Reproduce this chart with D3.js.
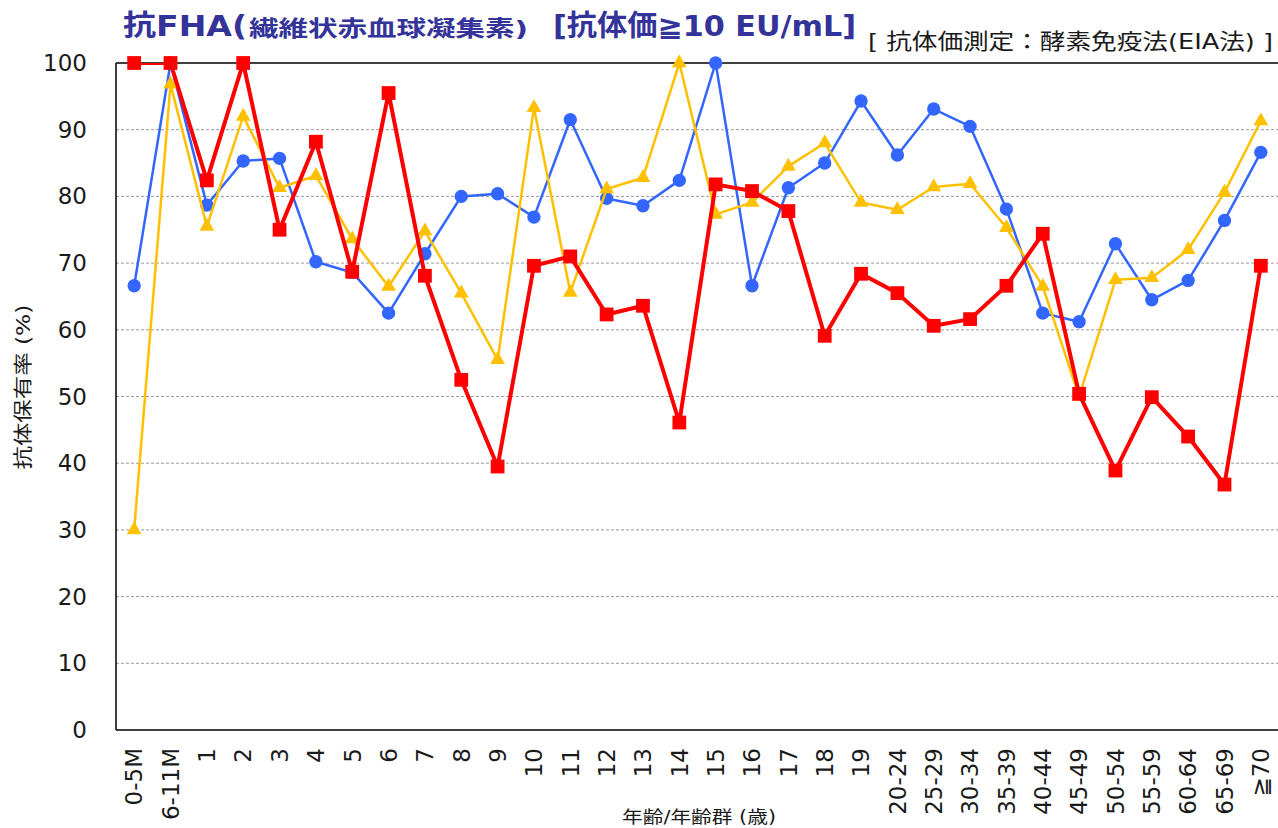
<!DOCTYPE html>
<html>
<head>
<meta charset="utf-8">
<script src="https://cdn.jsdelivr.net/npm/d3@7"></script>
<style>
  body { margin: 0; background: #fff; }
  svg { display: block; font-family: "DejaVu Sans", "Noto Sans CJK JP", sans-serif; }
</style>
</head>
<body>
<div id="chart"></div>
<script>
// 年齢/年齢群
const categories = ["0-5M", "6-11M", "1", "2", "3", "4", "5", "6", "7", "8", "9",
  "10", "11", "12", "13", "14", "15", "16", "17", "18", "19",
  "20-24", "25-29", "30-34", "35-39", "40-44", "45-49", "50-54", "55-59", "60-64", "65-69", "≧70"];

// 抗体保有率 (%)
const blueValues = [66.6, 100, 78.7, 85.3, 85.7, 70.2, 68.6, 62.5, 71.4, 80.0, 80.4,
  76.9, 91.5, 79.7, 78.6, 82.4, 100, 66.6, 81.3, 85.0, 94.3,
  86.2, 93.1, 90.5, 78.1, 62.5, 61.2, 72.9, 64.5, 67.4, 76.4, 86.6];
const yellowValues = [30.0, 96.8, 75.5, 92.0, 81.3, 83.1, 73.6, 66.5, 74.8, 65.5, 55.5,
  93.3, 65.6, 81.1, 82.8, 100, 77.3, 79.1, 84.5, 88.0, 79.1,
  78.0, 81.4, 81.9, 75.3, 66.5, 50.0, 67.5, 67.8, 72.0, 80.6, 91.3];
const redValues = [100, 100, 82.4, 100, 75.0, 88.2, 68.7, 95.5, 68.1, 52.5, 39.5,
  69.6, 71.0, 62.3, 63.6, 46.1, 81.8, 80.8, 77.8, 59.1, 68.4,
  65.5, 60.6, 61.6, 66.6, 74.4, 50.4, 38.9, 49.9, 44.0, 36.8, 69.6];

const yTicks = [0, 10, 20, 30, 40, 50, 60, 70, 80, 90, 100];

const W = 1278, H = 828;
const plot = {left: 116, top: 63, right: 1279, bottom: 730};

const svg = d3.select("#chart").append("svg")
  .attr("width", W)
  .attr("height", H);

const x = d3.scalePoint()
  .domain(categories)
  .range([plot.left, plot.right])
  .padding(0.5);

const y = d3.scaleLinear()
  .domain([0, 100])
  .range([plot.bottom, plot.top]);

// グリッド線
svg.append("g").selectAll("line")
  .data(yTicks.filter(d => d > 0 && d < 100))
  .enter().append("line")
  .attr("x1", plot.left)
  .attr("x2", W)
  .attr("y1", d => y(d))
  .attr("y2", d => y(d))
  .attr("stroke", "#9a9a9a")
  .attr("stroke-width", 1)
  .attr("stroke-dasharray", "3,2");

// 枠線
svg.append("line")
  .attr("x1", plot.left).attr("x2", W)
  .attr("y1", plot.top).attr("y2", plot.top)
  .attr("stroke", "#000").attr("stroke-width", 1.5);
svg.append("line")
  .attr("x1", plot.left).attr("x2", W)
  .attr("y1", plot.bottom).attr("y2", plot.bottom)
  .attr("stroke", "#000").attr("stroke-width", 1.5);
svg.append("line")
  .attr("x1", plot.left).attr("x2", plot.left)
  .attr("y1", plot.top).attr("y2", plot.bottom)
  .attr("stroke", "#000").attr("stroke-width", 1.5);

// Y軸目盛
svg.append("g").selectAll("text")
  .data(yTicks)
  .enter().append("text")
  .attr("x", 87)
  .attr("y", d => y(d))
  .attr("dy", "0.35em")
  .attr("text-anchor", "end")
  .style("font-size", "23px")
  .attr("fill", "#1a1a1a")
  .text(d => d);

// X軸目盛 (縦書き)
svg.append("g").selectAll("text")
  .data(categories)
  .enter().append("text")
  .attr("transform", d => `translate(${x(d)},748) rotate(-90)`)
  .attr("dy", "0.36em")
  .attr("text-anchor", "end")
  .style("font-size", "23px")
  .attr("fill", "#1a1a1a")
  .text(d => d);

// 軸タイトル
svg.append("text")
  .attr("transform", "translate(23,387) rotate(-90)")
  .attr("dy", "0.35em")
  .attr("text-anchor", "middle")
  .attr("textLength", 165)
  .attr("lengthAdjust", "spacingAndGlyphs")
  .style("font-size", "19px")
  .attr("fill", "#1a1a1a")
  .text("抗体保有率 (%)");

svg.append("text")
  .attr("x", 699)
  .attr("y", 817)
  .attr("dy", "0.35em")
  .attr("text-anchor", "middle")
  .attr("textLength", 154)
  .attr("lengthAdjust", "spacingAndGlyphs")
  .style("font-size", "17px")
  .attr("fill", "#1a1a1a")
  .text("年齢/年齢群 (歳)");

// タイトル
const titleParts = [
  {text: "抗FHA(", x: 123, len: 124, size: 29},
  {text: "繊維状赤血球凝集素)", x: 249, len: 279, size: 22},
  {text: "[抗体価≧10 EU/mL]", x: 553, len: 303, size: 29}
];
svg.append("g").selectAll("text")
  .data(titleParts)
  .enter().append("text")
  .attr("x", d => d.x)
  .attr("y", 36)
  .attr("textLength", d => d.len)
  .attr("lengthAdjust", "spacingAndGlyphs")
  .style("font-size", d => d.size + "px")
  .style("font-weight", "bold")
  .attr("fill", "#333399")
  .text(d => d.text);

svg.append("text")
  .attr("x", 868)
  .attr("y", 49)
  .attr("textLength", 405)
  .attr("lengthAdjust", "spacingAndGlyphs")
  .style("font-size", "22px")
  .attr("fill", "#1a1a1a")
  .text("[ 抗体価測定：酵素免疫法(EIA法) ]");

// 系列
svg.append("clipPath").attr("id", "plotClip")
  .append("rect")
  .attr("x", plot.left).attr("y", plot.top)
  .attr("width", W - plot.left).attr("height", plot.bottom - plot.top);

const series = [
  {values: blueValues, color: "#3366FF", width: 2.5, symbol: d3.symbolCircle, size: 140},
  {values: yellowValues, color: "#FFC000", width: 2.5, symbol: d3.symbolTriangle, size: 95},
  {values: redValues, color: "#FF0000", width: 4, symbol: d3.symbolSquare, size: 190}
];

const line = d3.line()
  .x((d, i) => x(categories[i]))
  .y(d => y(d));

series.forEach(function (s) {
  const g = svg.append("g");
  g.append("path")
    .datum(s.values)
    .attr("clip-path", "url(#plotClip)")
    .attr("fill", "none")
    .attr("stroke", s.color)
    .attr("stroke-width", s.width)
    .attr("stroke-linejoin", "round")
    .attr("d", line);

  g.selectAll("path.marker")
    .data(s.values)
    .enter().append("path")
    .attr("class", "marker")
    .attr("transform", (d, i) => `translate(${x(categories[i])},${y(d)})`)
    .attr("d", d3.symbol().type(s.symbol).size(s.size))
    .attr("fill", s.color);
});
</script>
</body>
</html>
